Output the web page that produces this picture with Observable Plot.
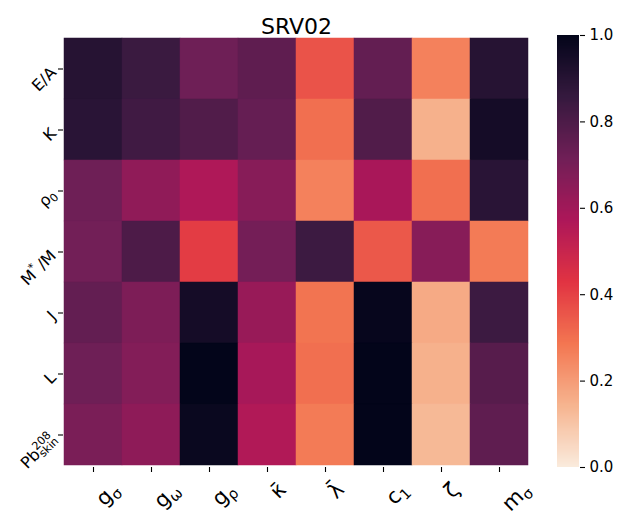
<!DOCTYPE html>
<html><head><meta charset="utf-8">
<script src="https://cdn.jsdelivr.net/npm/d3@7"></script>
<script src="https://cdn.jsdelivr.net/npm/@observablehq/plot@0.6"></script>
<style>
body{margin:0;background:#fff;font-family:"DejaVu Sans",sans-serif;}
#wrap{position:relative;width:618px;height:512px;}
#wrap svg{position:absolute;top:0;overflow:visible;}
</style></head><body><div id="wrap"></div>
<script>
const title = "SRV02";
const rows = ["E/A", "K", "ρ_0", "M^*/M", "J", "L", "Pb^208_skin"];
const cols = ["g_σ", "g_ω", "g_ρ", "κ\u0304", "λ\u0304", "c_1", "ζ", "m_σ"];
const vEA    = [0.90, 0.845, 0.72, 0.755, 0.36, 0.745, 0.26, 0.90];
const vK     = [0.89, 0.83, 0.79, 0.74, 0.30, 0.79, 0.15, 0.95];
const vRho0  = [0.72, 0.64, 0.565, 0.66, 0.26, 0.58, 0.30, 0.89];
const vMstar = [0.71, 0.80, 0.41, 0.705, 0.84, 0.35, 0.66, 0.275];
const vJ     = [0.745, 0.685, 0.95, 0.62, 0.29, 0.99, 0.165, 0.84];
const vL     = [0.72, 0.67, 1.0, 0.585, 0.30, 1.0, 0.15, 0.775];
const vPb    = [0.69, 0.645, 0.98, 0.56, 0.275, 1.0, 0.13, 0.755];
const colorTicks = [0, 0.2, 0.4, 0.6, 0.8, 1.0];
// rocket_r colormap stops
const rocketPos = [0, 1/7, 2/7, 3/7, 4/7, 5/7, 6/7, 1];
const rocketCol = ["#faebdd", "#f6b48f", "#f37651", "#e13342", "#ad1759", "#701f57", "#35193e", "#03051a"];

const values = [vEA, vK, vRho0, vMstar, vJ, vL, vPb];
const data = rows.flatMap((r, i) => cols.map((c, j) => ({row: r, col: c, value: values[i][j]})));
const colorOpts = {type: "linear", domain: rocketPos, range: rocketCol, interpolate: "rgb"};
const XFS = 21, YFS = 16;

const main = Plot.plot({
  width: 618, height: 512,
  marginLeft: 63, marginRight: 89, marginTop: 35, marginBottom: 45,
  x: {domain: cols, padding: 0, label: null},
  y: {domain: rows, padding: 0, label: null},
  color: colorOpts,
  style: {fontFamily: "DejaVu Sans", background: "transparent", overflow: "visible", color: "#000"},
  marks: [
    Plot.cell(data, {x: "col", y: "row", fill: "value", stroke: "value", strokeWidth: 0.5, inset: 0}),
    Plot.axisX({anchor: "bottom", tickSize: 5, tickFormat: () => "", stroke: "#000", strokeWidth: 1.1, label: null}),
    Plot.axisY({anchor: "left", tickSize: 5, tickFormat: () => "", stroke: "#000", strokeWidth: 1.1, label: null}),
    Plot.text(cols, {x: d => d, text: d => d, frameAnchor: "bottom", lineAnchor: "bottom", dy: 31, textAnchor: "start", rotate: -45, fontSize: XFS, fill: "#000", className: "xlab"}),
    Plot.text(rows, {y: d => d, text: d => d, frameAnchor: "left", dx: -10, dy: 1, textAnchor: "end", rotate: -45, fontSize: YFS, fill: "#000", className: "ylab"}),
    Plot.text([title], {text: d => d, frameAnchor: "top", dy: -17, fontSize: 22, fill: "#000"})
  ]
});
main.style.left = "0px";

const bar = Plot.plot({
  width: 73, height: 512,
  marginLeft: 12, marginRight: 39, marginTop: 35, marginBottom: 45,
  x: {domain: [0, 1], axis: null},
  y: {domain: [0, 1], label: null},
  color: colorOpts,
  style: {fontFamily: "DejaVu Sans", background: "transparent", overflow: "visible", color: "#000"},
  marks: [
    Plot.rect(d3.range(0, 1, 0.0025), {x1: d => 0, x2: d => 1, y1: d => d, y2: d => Math.min(1, d + 0.004), fill: d => d + 0.00125, shapeRendering: "crispEdges"}),
    Plot.axisY({anchor: "right", ticks: colorTicks, tickFormat: d3.format(".1f"), tickSize: 5, tickPadding: 5, fontSize: 15, stroke: "#000", strokeWidth: 1.1, fill: "#000", label: null})
  ]
});
bar.style.left = "545px";

const wrap = document.getElementById("wrap");
wrap.appendChild(main);
wrap.appendChild(bar);

// render ^ and _ as superscript / subscript tspans
const svgNS = "http://www.w3.org/2000/svg";
function mathify(el) {
  const s = el.textContent;
  if (!/[\^_]/.test(s)) return;
  const fs = parseFloat(getComputedStyle(el).fontSize);
  const segs = [];
  let i = 0, buf = "";
  const chars = Array.from(s);
  while (i < chars.length) {
    const ch = chars[i];
    if (ch === "^" || ch === "_") {
      if (buf) { segs.push({t: buf, kind: "n"}); buf = ""; }
      let tok = "";
      i++;
      if (/[A-Za-z0-9]/.test(chars[i])) {
        while (i < chars.length && /[A-Za-z0-9]/.test(chars[i])) tok += chars[i++];
      } else { tok = chars[i++]; }
      segs.push({t: tok, kind: ch === "^" ? "sup" : "sub"});
    } else { buf += ch; i++; }
  }
  if (buf) segs.push({t: buf, kind: "n"});
  el.textContent = "";
  let shift = 0, prev = null;
  segs.forEach(seg => {
    const ts = document.createElementNS(svgNS, "tspan");
    ts.textContent = seg.t;
    let target = 0, size = fs;
    if (seg.kind === "sup") { target = -0.42 * fs; size = 0.7 * fs; }
    else if (seg.kind === "sub") { target = 0.2 * fs; size = 0.7 * fs; }
    ts.setAttribute("font-size", size);
    const dy = target - shift;
    if (dy) ts.setAttribute("dy", dy);
    if (seg.kind === "sub" && prev && prev.kind === "sup") ts.setAttribute("dx", -prev.el.getComputedTextLength());
    if (seg.kind === "n" && prev && prev.kind === "sup") ts.setAttribute("dx", 0.2 * fs);
    el.appendChild(ts);
    shift = target;
    prev = {kind: seg.kind, el: ts};
  });
}
// y labels: sub/superscripts only
main.querySelectorAll(".ylab text").forEach(mathify);
// x labels: left-aligned rotated boxes hanging below the ticks
main.querySelectorAll(".xlab text").forEach(el => {
  mathify(el);
  const w = el.getComputedTextLength();
  const m = /translate\(([-\d.e]+),([-\d.e]+)\)/.exec(el.getAttribute("transform") || "");
  if (!m) return;
  const X = +m[1], Y = +m[2];
  el.setAttribute("transform", `translate(${X + 11},${Y + 0.707 * (w - 0.5 * XFS)}) rotate(-45)`);
});
</script>
</body></html>
